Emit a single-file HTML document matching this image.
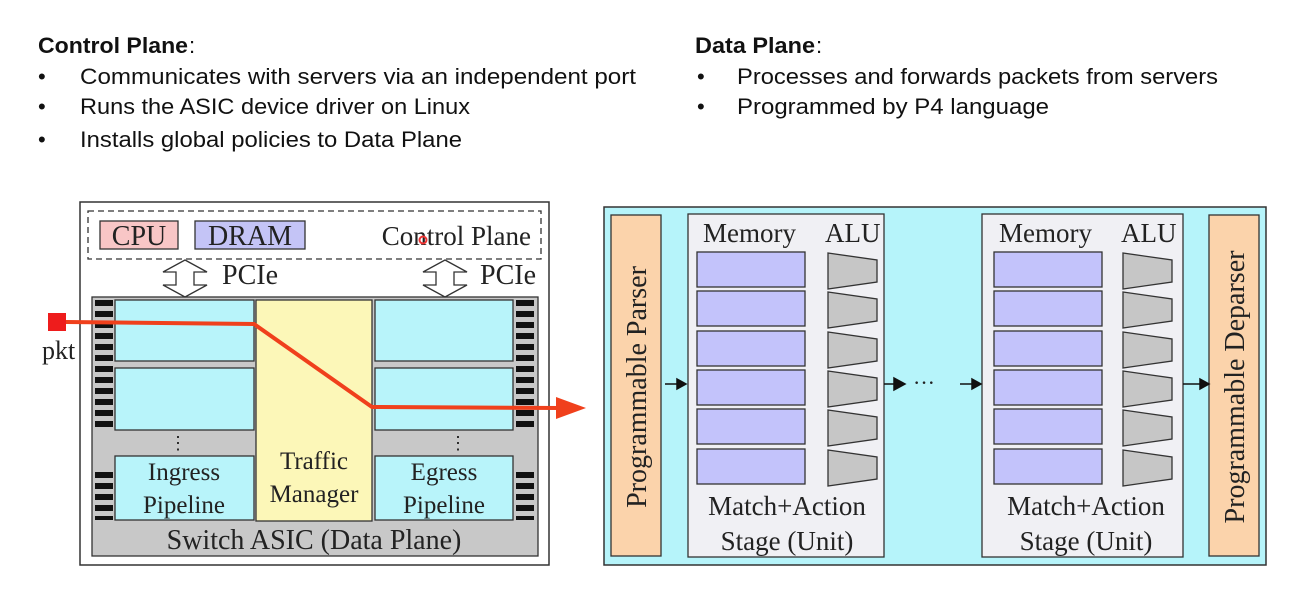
<!DOCTYPE html>
<html><head><meta charset="utf-8"><style>
html,body{margin:0;padding:0;background:#fff;width:1302px;height:596px;overflow:hidden}
</style></head><body>
<svg width="1302" height="596" viewBox="0 0 1302 596" xmlns="http://www.w3.org/2000/svg">
<g font-family="Liberation Sans, sans-serif" font-size="22" fill="#111">
<text x="38" y="53" font-weight="bold" textLength="150" lengthAdjust="spacingAndGlyphs">Control Plane</text><text x="189" y="53">:</text>
<text x="38" y="84">•</text><text x="80" y="84" textLength="556" lengthAdjust="spacingAndGlyphs">Communicates with servers via an independent port</text>
<text x="38" y="114">•</text><text x="80" y="114" textLength="390" lengthAdjust="spacingAndGlyphs">Runs the ASIC device driver on Linux</text>
<text x="38" y="147">•</text><text x="80" y="147" textLength="382" lengthAdjust="spacingAndGlyphs">Installs global policies to Data Plane</text>
<text x="695" y="53" font-weight="bold" textLength="120" lengthAdjust="spacingAndGlyphs">Data Plane</text><text x="816" y="53">:</text>
<text x="697" y="84">•</text><text x="737" y="84" textLength="481" lengthAdjust="spacingAndGlyphs">Processes and forwards packets from servers</text>
<text x="697" y="114">•</text><text x="737" y="114" textLength="312" lengthAdjust="spacingAndGlyphs">Programmed by P4 language</text>
</g>
<g font-family="Liberation Serif, serif" fill="#222">
<!-- left diagram -->
<rect x="80" y="202" width="469" height="363" fill="#fff" stroke="#333" stroke-width="1.5"/>
<rect x="88" y="211" width="453" height="48" fill="none" stroke="#333" stroke-width="1.3" stroke-dasharray="6,4"/>
<rect x="100" y="221" width="78" height="28" fill="#f8c6c6" stroke="#333" stroke-width="1.3"/>
<text x="139" y="245" font-size="28" text-anchor="middle">CPU</text>
<rect x="195" y="221" width="110" height="28" fill="#c4c4f6" stroke="#333" stroke-width="1.3"/>
<text x="250" y="245" font-size="28" text-anchor="middle">DRAM</text>
<text x="531" y="245" font-size="27" text-anchor="end">Control Plane</text>
<rect x="92" y="297" width="446" height="259" fill="#c8c8c8" stroke="#333" stroke-width="1.3"/>
<g fill="#111">
<rect x="95" y="300" width="18" height="6"/><rect x="95" y="311" width="18" height="6"/><rect x="95" y="322" width="18" height="6"/><rect x="95" y="333" width="18" height="6"/><rect x="95" y="344" width="18" height="6"/><rect x="95" y="355" width="18" height="6"/><rect x="95" y="366" width="18" height="6"/><rect x="95" y="377" width="18" height="6"/><rect x="95" y="388" width="18" height="6"/><rect x="95" y="399" width="18" height="6"/><rect x="95" y="410" width="18" height="6"/><rect x="95" y="421" width="18" height="6"/>
<rect x="95" y="472" width="18" height="6"/><rect x="95" y="483" width="18" height="6"/><rect x="95" y="494" width="18" height="6"/><rect x="95" y="505" width="18" height="6"/><rect x="95" y="516" width="18" height="4"/>
<rect x="516" y="300" width="18" height="6"/><rect x="516" y="311" width="18" height="6"/><rect x="516" y="322" width="18" height="6"/><rect x="516" y="333" width="18" height="6"/><rect x="516" y="344" width="18" height="6"/><rect x="516" y="355" width="18" height="6"/><rect x="516" y="366" width="18" height="6"/><rect x="516" y="377" width="18" height="6"/><rect x="516" y="388" width="18" height="6"/><rect x="516" y="399" width="18" height="6"/><rect x="516" y="410" width="18" height="6"/><rect x="516" y="421" width="18" height="6"/>
<rect x="516" y="472" width="18" height="6"/><rect x="516" y="483" width="18" height="6"/><rect x="516" y="494" width="18" height="6"/><rect x="516" y="505" width="18" height="6"/><rect x="516" y="516" width="18" height="4"/>
</g>
<g fill="#b8f4fa" stroke="#333" stroke-width="1.3">
<rect x="115" y="300" width="139" height="61"/><rect x="115" y="368" width="139" height="62"/><rect x="115" y="456" width="139" height="64"/>
<rect x="375" y="300" width="138" height="61"/><rect x="375" y="368" width="138" height="62"/><rect x="375" y="456" width="138" height="64"/>
</g>
<rect x="256" y="300" width="116" height="221" fill="#fcf7b8" stroke="#333" stroke-width="1.3"/>
<text x="178" y="449" font-size="18" text-anchor="middle">⋮</text>
<text x="458" y="449" font-size="18" text-anchor="middle">⋮</text>
<text x="184" y="480" font-size="25" text-anchor="middle">Ingress</text>
<text x="184" y="513" font-size="25" text-anchor="middle">Pipeline</text>
<text x="314" y="469" font-size="25" text-anchor="middle">Traffic</text>
<text x="314" y="502" font-size="25" text-anchor="middle">Manager</text>
<text x="444" y="480" font-size="25" text-anchor="middle">Egress</text>
<text x="444" y="513" font-size="25" text-anchor="middle">Pipeline</text>
<text x="314" y="549" font-size="28" text-anchor="middle">Switch ASIC (Data Plane)</text>
<polygon points="185,260 207,272 194,272 194,285 207,285 185,297 163,285 176,285 176,272 163,272" fill="#fff" stroke="#333" stroke-width="1.3"/>
<polygon points="445,260 467,272 454,272 454,285 467,285 445,297 423,285 436,285 436,272 423,272" fill="#fff" stroke="#333" stroke-width="1.3"/>
<text x="222" y="284" font-size="28">PCIe</text>
<text x="480" y="284" font-size="28">PCIe</text>
<text x="42" y="359" font-size="26">pkt</text>
<rect x="48" y="313" width="18" height="18" fill="#ee1c1c"/>
<polyline points="66,322 254,324 372,407 560,408" fill="none" stroke="#f0401c" stroke-width="4"/>
<polygon points="556,397 586,408 556,419" fill="#f0401c"/>
<circle cx="423" cy="240" r="3.5" fill="none" stroke="#e33" stroke-width="2"/>
<!-- right diagram -->
<rect x="604" y="207" width="662" height="358" fill="#b6f4fa" stroke="#333" stroke-width="1.5"/>
<rect x="611" y="215" width="50" height="341" fill="#fbd3ab" stroke="#333" stroke-width="1.3"/>
<rect x="1209" y="215" width="50" height="341" fill="#fbd3ab" stroke="#333" stroke-width="1.3"/>
<text transform="translate(646,387) rotate(-90)" font-size="28" text-anchor="middle">Programmable Parser</text>
<text transform="translate(1244,387) rotate(-90)" font-size="28" text-anchor="middle">Programmable Deparser</text>
<rect x="688" y="214" width="196" height="343" fill="#f0f0f4" stroke="#333" stroke-width="1.3"/>
<rect x="982" y="214" width="201" height="343" fill="#f0f0f4" stroke="#333" stroke-width="1.3"/>
<g font-size="27">
<text x="703" y="242">Memory</text><text x="825" y="242">ALU</text>
<text x="999" y="242">Memory</text><text x="1121" y="242">ALU</text>
<text x="787" y="515" text-anchor="middle">Match+Action</text><text x="787" y="550" text-anchor="middle">Stage (Unit)</text>
<text x="1086" y="515" text-anchor="middle">Match+Action</text><text x="1086" y="550" text-anchor="middle">Stage (Unit)</text>
</g>
<g fill="#c3c3fb" stroke="#333" stroke-width="1.3">
<rect x="697" y="252" width="108" height="35"/><rect x="697" y="291" width="108" height="35"/><rect x="697" y="331" width="108" height="35"/><rect x="697" y="370" width="108" height="35"/><rect x="697" y="409" width="108" height="35"/><rect x="697" y="449" width="108" height="35"/>
<rect x="994" y="252" width="108" height="35"/><rect x="994" y="291" width="108" height="35"/><rect x="994" y="331" width="108" height="35"/><rect x="994" y="370" width="108" height="35"/><rect x="994" y="409" width="108" height="35"/><rect x="994" y="449" width="108" height="35"/>
</g>
<g fill="#c6c6c6" stroke="#333" stroke-width="1.3">
<polygon points="828,253 877,260 877,282 828,289"/><polygon points="828,292 877,299 877,321 828,328"/><polygon points="828,332 877,339 877,361 828,368"/><polygon points="828,371 877,378 877,400 828,407"/><polygon points="828,410 877,417 877,439 828,446"/><polygon points="828,450 877,457 877,479 828,486"/>
<polygon points="1123,253 1172,260 1172,282 1123,289"/><polygon points="1123,292 1172,299 1172,321 1123,328"/><polygon points="1123,332 1172,339 1172,361 1123,368"/><polygon points="1123,371 1172,378 1172,400 1123,407"/><polygon points="1123,410 1172,417 1172,439 1123,446"/><polygon points="1123,450 1172,457 1172,479 1123,486"/>
</g>
<g stroke="#111" stroke-width="1.5" fill="#111">
<line x1="665" y1="384" x2="678" y2="384"/><polygon points="677,379 686,384 677,389"/>
<line x1="884" y1="384" x2="894" y2="384"/><polygon points="894,378 905,384 894,390"/>
<line x1="960" y1="384" x2="972" y2="384"/><polygon points="972,379 981,384 972,389"/>
<line x1="1183" y1="384" x2="1200" y2="384"/><polygon points="1200,379 1209,384 1200,389"/>
</g>
<text x="913" y="390" font-size="22">···</text>
</g>
</svg>
</body></html>
